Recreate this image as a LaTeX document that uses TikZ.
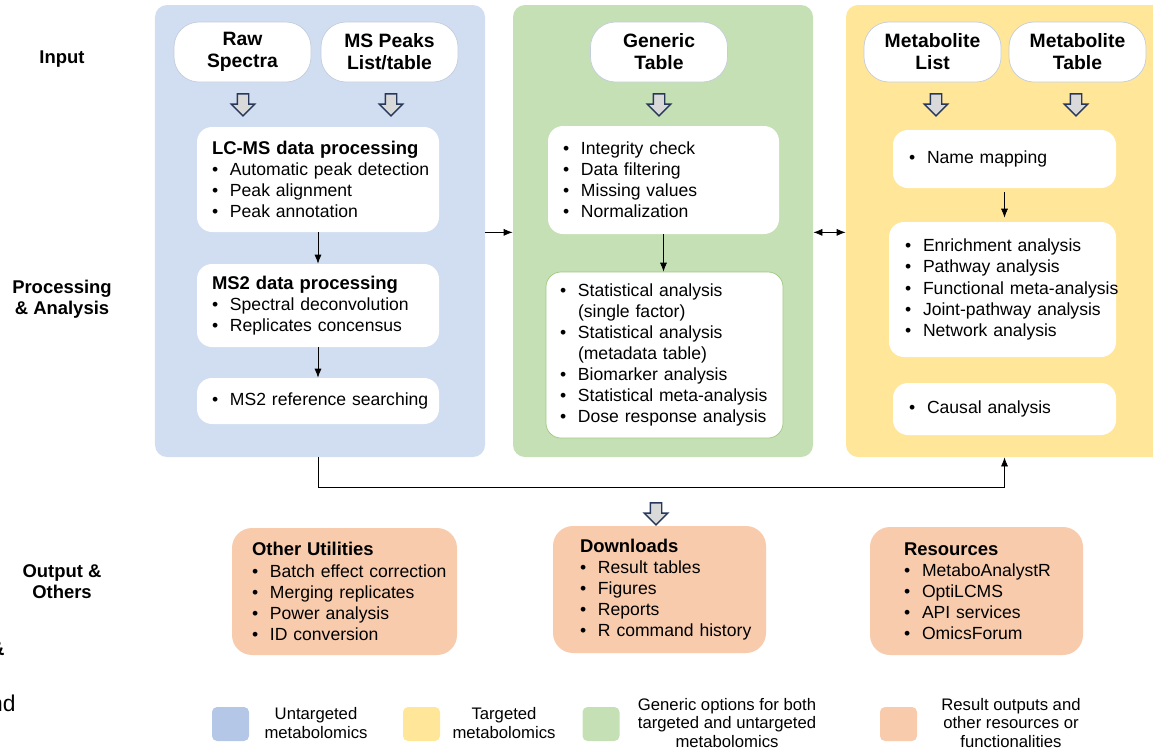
\documentclass[tikz,border=0pt]{standalone}
\usepackage{fontspec}
\setmainfont{Liberation Sans}
\usetikzlibrary{arrows.meta,shapes.arrows}

\definecolor{untarg}{RGB}{209,222,241}
\definecolor{untargkey}{RGB}{180,199,231}
\definecolor{targ}{RGB}{255,230,153}
\definecolor{gener}{RGB}{197,224,180}
\definecolor{genline}{RGB}{160,200,130}
\definecolor{outres}{RGB}{248,203,173}
\definecolor{pilledge}{RGB}{195,205,220}
\definecolor{hollowedge}{RGB}{40,56,90}

\newcommand{\hd}[1]{{\bfseries\fontsize{10.5}{12}\selectfont #1}}
\newcommand{\bi}[1]{\mbox{\makebox[3.6mm][l]{\textbullet}#1}}
\newcommand{\ct}[1]{\mbox{\hspace*{3.6mm}#1}}

\tikzset{
  panel/.style={rounded corners=2.4mm, minimum height=90.4mm, inner sep=0pt},
  pill/.style={draw=pilledge, fill=white, rounded corners=5mm, minimum width=27.4mm,
    minimum height=12mm, align=center, font=\bfseries\fontsize{11}{12.5}\selectfont},
  wbox/.style={fill=white, rounded corners=3mm, align=left, inner ysep=0pt},
  obox/.style={fill=outres, rounded corners=4mm, align=left, inner ysep=0pt},
  rowlabel/.style={align=center, font=\bfseries\fontsize{10.5}{12}\selectfont},
  hollow/.style={single arrow, draw=hollowedge, fill=gray!30, line width=0.8pt,
    shape border rotate=270, minimum height=4.4mm, minimum width=4.4mm,
    single arrow head extend=1.2mm, inner sep=1mm},
  swatch/.style={rounded corners=1mm, minimum width=7.4mm, minimum height=6.8mm},
  keytext/.style={align=center, font=\fontsize{9.5}{10.8}\selectfont}
}

\begin{document}
\begin{tikzpicture}[x=0.2mm, y=-0.2mm, >={Latex[length=1.8mm,width=1.4mm]},
    font=\fontsize{10}{12}\selectfont]
  \useasboundingbox (0,0) rectangle (1153,751);
  \clip (0,0) rectangle (1153,751);

  % row labels
  \node[rowlabel] (lbin) at (62,59) {Input};
  \node[rowlabel] (lbproc) at (62,299.5) {Processing\\\& Analysis};
  \node[rowlabel] (lbout) at (62,581.5) {Output \&\\Others};
  \node[anchor=base east, inner sep=0pt, font=\bfseries\fontsize{12}{14}\selectfont] (amp) at (5,655) {\&};
  \node[anchor=base east, inner sep=0pt, font=\fontsize{13}{16}\selectfont] (nd) at (16,711) {nd};

  % panels
  \node[panel, fill=untarg, minimum width=66mm] (bluep) at (320,231) {};
  \node[panel, fill=gener, minimum width=60mm] (greenp) at (663,231) {};
  \node[panel, fill=targ, minimum width=64mm] (yelp) at (1006,231) {};

  % inputs
  \node[pill] (raw) at (242.5,52) {Raw\\Spectra};
  \node[pill] (peaks) at (389.5,52) {MS Peaks\\List/table};
  \node[pill] (generic) at (659,52) {Generic\\Table};
  \node[pill] (mlist) at (932.5,52) {Metabolite\\List};
  \node[pill] (mtable) at (1077.5,52) {Metabolite\\Table};

  \node[hollow] (ha1) at (243,102) {};
  \node[hollow] (ha2) at (391,102) {};
  \node[hollow] (ha3) at (659,102) {};
  \node[hollow] (ha4) at (936,102) {};
  \node[hollow] (ha5) at (1076,102) {};

  % untargeted
  \node[wbox, inner xsep=3mm, text width=42.4mm, minimum height=21mm] (lcms) at (318,179.5)
    {\hd{LC-MS data processing}\\ \bi{Automatic peak detection}\\ \bi{Peak alignment}\\ \bi{Peak annotation}};
  \node[wbox, inner xsep=3mm, text width=42.4mm, minimum height=16.6mm] (ms2) at (318,305.5)
    {\hd{MS2 data processing}\\ \bi{Spectral deconvolution}\\ \bi{Replicates concensus}};
  \node[wbox, inner xsep=3mm, text width=42.4mm, minimum height=9.2mm] (msref) at (318,401)
    {\bi{MS2 reference searching}};
  \draw[->] (lcms) -- (ms2);
  \draw[->] (ms2) -- (msref);

  % generic
  \node[wbox, inner xsep=3mm, text width=40.2mm, minimum height=21.6mm] (integ) at (663.5,180)
    {\bi{Integrity check}\\ \bi{Data filtering}\\ \bi{Missing values}\\ \bi{Normalization}};
  \node[wbox, draw=genline, inner xsep=2.8mm, text width=41.8mm, minimum height=33.2mm] (stat) at (664.5,355)
    {\bi{Statistical analysis}\\ \ct{(single factor)}\\ \bi{Statistical analysis}\\ \ct{(metadata table)}\\
     \bi{Biomarker analysis}\\ \bi{Statistical meta-analysis}\\ \bi{Dose response analysis}};
  \draw[->] (integ.south) -- (integ.south |- stat.north);

  % targeted
  \node[wbox, inner xsep=3.2mm, text width=38.2mm, minimum height=11.6mm] (namemap) at (1004.5,159)
    {\bi{Name mapping}};
  \node[wbox, inner xsep=3.2mm, text width=39mm, minimum height=27mm] (enrich) at (1002.5,289.5)
    {\bi{Enrichment analysis}\\ \bi{Pathway analysis}\\ \bi{Functional meta-analysis}\\
     \bi{Joint-pathway analysis}\\ \bi{Network analysis}};
  \node[wbox, inner xsep=3.2mm, text width=38.2mm, minimum height=10.4mm] (causal) at (1004.5,409)
    {\bi{Causal analysis}};
  \draw[->, shorten <=0.8mm, shorten >=0.8mm] (namemap.south) -- (namemap.south |- enrich.north);

  % links between panels
  \draw[->] (bluep.east |- lcms.south) -- (greenp.west |- lcms.south);
  \draw[<->] (greenp.east |- lcms.south) -- (yelp.west |- lcms.south);
  \coordinate (bus) at (0,487);
  \draw[->] (bluep.south -| msref) -- (msref |- bus) -| (yelp.south -| causal);

  % outputs
  \node[hollow] (ha6) at (656,511) {};
  \node[obox, inner xsep=4mm, text width=37mm, minimum height=25.4mm] (other) at (344.5,591.5)
    {\hd{Other Utilities}\\ \bi{Batch effect correction}\\ \bi{Merging replicates}\\ \bi{Power analysis}\\ \bi{ID conversion}};
  \node[obox, inner xsep=5.4mm, text width=31.8mm, minimum height=25.4mm] (downl) at (659.5,589.5)
    {\hd{Downloads}\\ \bi{Result tables}\\ \bi{Figures}\\ \bi{Reports}\\ \bi{R command history}};
  \node[obox, inner xsep=6.8mm, text width=29mm, minimum height=25.6mm] (resrc) at (976.5,591)
    {\hd{Resources}\\ \bi{MetaboAnalystR}\\ \bi{OptiLCMS}\\ \bi{API services}\\ \bi{OmicsForum}};

  % legend
  \node[swatch, fill=untargkey] (swb) at (230.5,724) {};
  \node[keytext] (lgb) at (316,723.5) {Untargeted\\metabolomics};
  \node[swatch, fill=targ] (swy) at (421.5,724) {};
  \node[keytext] (lgy) at (504,723.5) {Targeted\\metabolomics};
  \node[swatch, fill=gener] (swg) at (601,724) {};
  \node[keytext] (lgg) at (727,723) {Generic options for both\\targeted and untargeted\\metabolomics};
  \node[swatch, fill=outres] (swo) at (898.5,724) {};
  \node[keytext] (lgo) at (1011,723) {Result outputs and\\other resources or\\functionalities};
\end{tikzpicture}
\end{document}
